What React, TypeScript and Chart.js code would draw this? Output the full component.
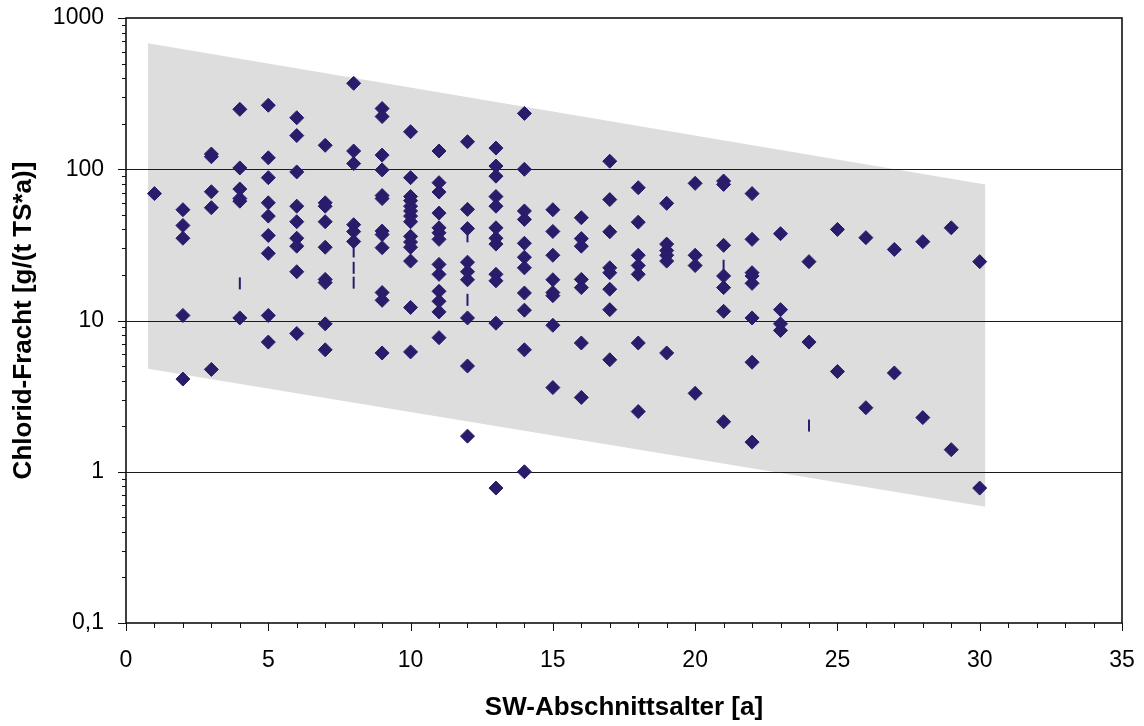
import React, { useEffect, useRef } from 'react';
import { Chart, registerables } from 'chart.js';

Chart.register(...registerables);

// ---- data ----
const ages = [1, 2, 3, 4, 5, 6, 7, 8, 9, 10, 11, 12, 13, 14, 15, 16, 17, 18, 19, 20, 21, 22, 23, 24, 25, 26, 27, 28, 29, 30];

const loadsByAge: number[][] = [
  [69],
  [54, 42.5, 35, 10.8, 4.1],
  [126, 121, 71, 55.7, 4.75],
  [249, 102, 74, 64, 61.5, 10.4],
  [265, 119, 88, 60, 49, 36.5, 27.8, 10.8, 7.2],
  [219, 167, 96, 57, 45, 35, 31, 21, 8.2],
  [144, 60, 57, 45, 30.5, 18.7, 17.8, 9.5, 6.4],
  [370, 132, 109, 43, 38.7, 33.3],
  [252, 223, 124, 99, 67, 64, 39, 37, 30.3, 15.3, 13.6, 6.1],
  [177, 88, 66, 62, 57, 53, 49, 45, 36, 33, 30.5, 24.7, 12.2, 6.2],
  [132, 81.5, 70.7, 51.3, 41, 38, 34.4, 23.5, 20.2, 15.6, 13.4, 11.4, 7.7],
  [152, 54.3, 40.5, 24.3, 21, 18.6, 10.4, 5, 1.72],
  [138, 105, 90, 66, 57, 41, 35, 32, 20.2, 18.3, 9.6, 0.78],
  [234, 100, 53, 46.6, 32.4, 26.2, 22.3, 15.2, 11.7, 6.4, 1.0],
  [54, 38.8, 27, 18.6, 15.3, 14.6, 9.3, 3.6],
  [47.8, 34.8, 31, 18.7, 16.5, 7.1, 3.1],
  [113, 63, 38.6, 22.3, 20.7, 16.1, 11.8, 5.5],
  [75.5, 44.7, 27, 23.1, 20.2, 7.1, 2.5],
  [59.5, 32, 29, 27, 24.7, 6.1],
  [80.7, 27, 23.1, 3.3],
  [83.6, 79.4, 31.4, 19.7, 16.5, 11.5, 2.14],
  [69, 34.4, 20.7, 19.7, 17.6, 10.4, 5.3, 1.57],
  [37.5, 11.8, 9.5, 8.6],
  [24.5, 7.2],
  [40, 4.6],
  [35.3, 2.65],
  [29.5, 4.5],
  [33.2, 2.28],
  [41, 1.4],
  [24.5, 0.78],
];

// short vertical marks
const markAges = [4, 8, 8, 8, 12, 12, 21, 24];
const markLoads = [17.6, 28.6, 22.3, 17.8, 36, 13.7, 23, 2.02];

// grey range band
const bandAges = [0.77, 30.2];
const bandUpper = [680, 79.4];
const bandLower = [4.8, 0.587];

const xTickValues = [0, 5, 10, 15, 20, 25, 30, 35];
const yTickValues = [0.1, 1, 10, 100, 1000];
const yTickLabels = ['0,1', '1', '10', '100', '1000'];
const yGridValues = [1, 10, 100];

const xTitle = 'SW-Abschnittsalter [a]';
const yTitle = 'Chlorid-Fracht [g/(t TS*a)]';

const NAVY = '#2a1b6b';
const BAND = '#dddddd';
const FONT = '"Liberation Sans", Arial, Helvetica, sans-serif';

const axisPlugin = {
  id: 'axisDecor',
  afterDatasetDraw(chart: any, args: any) {
    if (args.index !== 1) return; // after the band
    const { ctx, chartArea, scales } = chart;
    const y = scales.y;
    ctx.save();
    ctx.strokeStyle = '#1a1a1a';
    ctx.lineWidth = 1;
    for (const v of yGridValues) {
      const py = Math.round(y.getPixelForValue(v)) + 0.5;
      ctx.beginPath();
      ctx.moveTo(chartArea.left, py);
      ctx.lineTo(chartArea.right, py);
      ctx.stroke();
    }
    ctx.restore();
  },
  afterDraw(chart: any) {
    const { ctx, chartArea, scales } = chart;
    const { left, right, top, bottom } = chartArea;
    const x = scales.x;
    const y = scales.y;
    ctx.save();
    ctx.strokeStyle = '#111';
    ctx.lineWidth = 1;
    for (let d = 0; d < 4; d++) {
      const base = yTickValues[d];
      for (let m = 1; m <= 9; m++) {
        const v = base * m;
        const py = Math.round(y.getPixelForValue(v)) + 0.5;
        const len = m === 1 ? 8 : 4;
        ctx.beginPath();
        ctx.moveTo(left - len, py);
        ctx.lineTo(left, py);
        ctx.stroke();
      }
    }
    {
      const py = Math.round(y.getPixelForValue(1000)) + 0.5;
      ctx.beginPath();
      ctx.moveTo(left - 8, py);
      ctx.lineTo(left, py);
      ctx.stroke();
    }
    for (let k = 0; k <= 35; k++) {
      const px = Math.round(x.getPixelForValue(k)) + 0.5;
      const len = k % 5 === 0 ? 8 : 5;
      ctx.beginPath();
      ctx.moveTo(px, bottom);
      ctx.lineTo(px, bottom + len);
      ctx.stroke();
    }
    ctx.lineWidth = 1.6;
    ctx.strokeStyle = '#111';
    ctx.strokeRect(Math.round(left), Math.round(top), Math.round(right) - Math.round(left), Math.round(bottom) - Math.round(top));
    ctx.restore();
  },
};

export default function App() {
  const canvasRef = useRef<HTMLCanvasElement | null>(null);

  useEffect(() => {
    const canvas = canvasRef.current;
    if (!canvas) return;

    const points: { x: number; y: number }[] = [];
    ages.forEach((a, i) => {
      loadsByAge[i].forEach((v) => points.push({ x: a, y: v }));
    });
    const marks = markAges.map((a, i) => ({ x: a, y: markLoads[i] }));
    const upper = bandAges.map((a, i) => ({ x: a, y: bandUpper[i] }));
    const lower = bandAges.map((a, i) => ({ x: a, y: bandLower[i] }));

    const chart = new Chart(canvas, {
      type: 'scatter',
      data: {
        datasets: [
          {
            type: 'line',
            label: 'band upper',
            data: upper,
            fill: '+1',
            backgroundColor: BAND,
            borderWidth: 0,
            borderColor: 'rgba(0,0,0,0)',
            pointRadius: 0,
            pointHoverRadius: 0,
            tension: 0,
            order: 6,
          } as any,
          {
            type: 'line',
            label: 'band lower',
            data: lower,
            fill: false,
            borderWidth: 0,
            borderColor: 'rgba(0,0,0,0)',
            pointRadius: 0,
            pointHoverRadius: 0,
            tension: 0,
            order: 5,
          } as any,
          {
            label: 'Chlorid-Fracht',
            data: points,
            pointStyle: 'rectRot',
            pointRadius: 7,
            pointHoverRadius: 7,
            backgroundColor: NAVY,
            borderColor: NAVY,
            pointBorderWidth: 1,
            order: 0,
          } as any,
          {
            label: 'marks',
            data: marks,
            pointStyle: 'line',
            pointRotation: 90,
            pointRadius: 6,
            pointHoverRadius: 6,
            borderColor: NAVY,
            backgroundColor: NAVY,
            pointBorderWidth: 2,
            order: 1,
          } as any,
        ],
      },
      options: {
        animation: false,
        responsive: false,
        events: [],
        layout: { padding: { top: 18, right: 22, left: 0, bottom: 0 } },
        plugins: {
          legend: { display: false },
          tooltip: { enabled: false },
        },
        scales: {
          x: {
            type: 'linear',
            min: 0,
            max: 35,
            grid: { display: false, drawTicks: false },
            border: { display: false },
            afterBuildTicks: (s: any) => {
              s.ticks = xTickValues.map((v) => ({ value: v }));
            },
            ticks: {
              color: '#000',
              font: { family: FONT, size: 23 },
              padding: 24,
              maxRotation: 0,
              autoSkip: false,
            },
            title: {
              display: true,
              text: xTitle,
              color: '#000',
              font: { family: FONT, size: 26, weight: 'bold' },
              padding: { top: 0, bottom: 3 },
            },
            afterFit: (s: any) => {
              s.height = 103;
              s.paddingLeft = 0;
              s.paddingRight = 0;
            },
          },
          y: {
            type: 'logarithmic',
            min: 0.1,
            max: 1000,
            grid: { display: false, drawTicks: false },
            border: { display: false },
            afterBuildTicks: (s: any) => {
              s.ticks = yTickValues.map((v) => ({ value: v }));
            },
            ticks: {
              color: '#000',
              font: { family: FONT, size: 23 },
              padding: 22,
              autoSkip: false,
              callback: (value: any) => {
                const i = yTickValues.indexOf(Number(value));
                return i >= 0 ? yTickLabels[i] : '';
              },
            },
            title: {
              display: true,
              text: yTitle,
              color: '#000',
              font: { family: FONT, size: 26, weight: 'bold' },
              padding: { top: 8, bottom: 0 },
            },
            afterFit: (s: any) => {
              s.width = 126;
              s.paddingTop = 0;
              s.paddingBottom = 0;
            },
          },
        },
      } as any,
      plugins: [axisPlugin],
    });

    return () => {
      chart.destroy();
    };
  }, []);

  return (
    <div style={{ position: 'absolute', left: 0, top: 0, width: 1144, height: 726, background: '#fff' }}>
      <canvas ref={canvasRef} width={1144} height={726} style={{ display: 'block', width: 1144, height: 726 }} />
    </div>
  );
}
